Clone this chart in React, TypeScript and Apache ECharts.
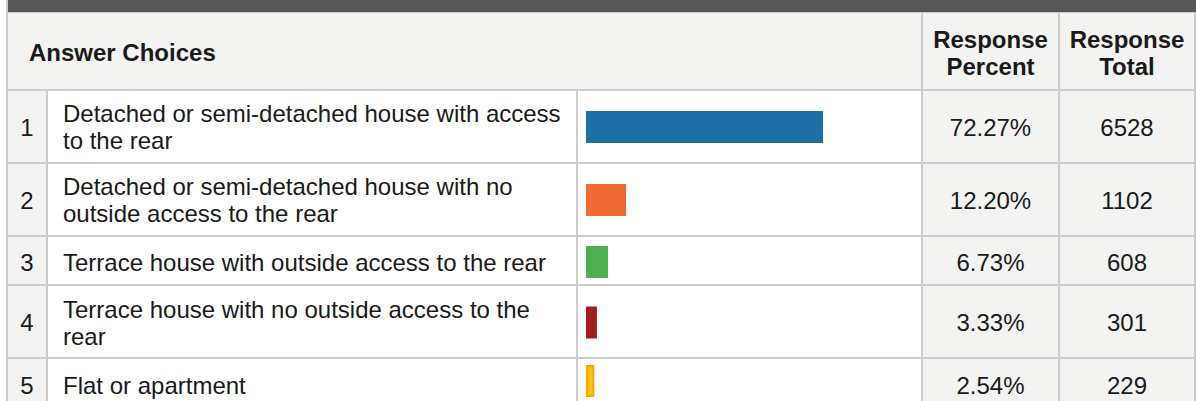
import React, { useEffect, useRef } from "react";
import * as echarts from "echarts";

// ---- data ----
const choiceLabels: string[] = [
  "Detached or semi-detached house with access\nto the rear",
  "Detached or semi-detached house with no\noutside access to the rear",
  "Terrace house with outside access to the rear",
  "Terrace house with no outside access to the\nrear",
  "Flat or apartment",
];
const responsePercent: number[] = [72.27, 12.2, 6.73, 3.33, 2.54];
const responseTotal: number[] = [6528, 1102, 608, 301, 229];
const barColors: string[] = ["#1D6FA5", "#F16A34", "#4CAF50", "#A31D1F", "#FFC20E"];
const headerChoices = "Answer Choices";
const headerPercent = "Response\nPercent";
const headerTotal = "Response\nTotal";

// ---- layout (presentation only) ----
const W = 1196;
const H = 401;
const FONT = "'Liberation Sans', Arial, Helvetica, sans-serif";
const BORDER = "#cccccc";
const GREY = "#f3f3f2";
const TEXT = "#1a1a1a";
// row [top, bottom] (content area between borders)
const rows: [number, number][] = [
  [91, 162],
  [164, 235],
  [237, 284],
  [286, 357],
  [359, 412],
];
const rowCenters = [127, 200, 262, 322.5, 385];
const barLeft = 586;
const barFull = 328; // px for 100%

export default function App() {
  const ref = useRef<HTMLDivElement>(null);
  useEffect(() => {
    document.body.style.margin = "0";
    if (!ref.current) return;
    const chart = echarts.init(ref.current, null, { renderer: "svg", width: W, height: H });

    const graphics: any[] = [];
    const rect = (x: number, y: number, w: number, h: number, fill: string, z = 0) =>
      graphics.push({ type: "rect", z, silent: true, shape: { x, y, width: w, height: h }, style: { fill } });
    const text = (
      x: number,
      y: number,
      t: string,
      align: string,
      bold = false
    ) =>
      graphics.push({
        type: "text",
        z: 10,
        silent: true,
        x,
        y,
        style: {
          text: t,
          fontFamily: FONT,
          fontSize: 24,
          fontWeight: bold ? "bold" : "normal",
          lineHeight: 27,
          fill: TEXT,
          align,
          verticalAlign: "middle",
          textAlign: align,
          textVerticalAlign: "middle",
        },
      });

    // top dark bar
    rect(8, 0, W - 8, 12, "#555756");
    rect(8, 12, W - 8, 1, BORDER);
    // header bg
    rect(8, 13, 1186, 76, GREY);
    // grey columns in body
    rect(8, 91, 38, H - 91, GREY);
    rect(923, 91, 135, H - 91, GREY);
    rect(1060, 91, 134, H - 91, GREY);
    // left & right borders
    rect(6, 0, 2, H, BORDER);
    rect(1194, 13, 2, H - 13, BORDER);
    // header vertical borders
    rect(921, 13, 2, H - 13, BORDER);
    rect(1058, 13, 2, H - 13, BORDER);
    // body vertical borders
    rect(46, 91, 2, H - 91, BORDER);
    rect(576, 91, 2, H - 91, BORDER);
    // horizontal borders
    rect(8, 89, 1186, 2, BORDER);
    rows.forEach((r, i) => {
      if (i < rows.length - 1) rect(8, r[1], 1186, 2, BORDER);
    });

    // header texts
    text(29, 52, headerChoices, "left", true);
    text(990.5, 53, headerPercent, "center", true);
    text(1127, 53, headerTotal, "center", true);

    // body texts
    choiceLabels.forEach((label, i) => {
      const cy = rowCenters[i];
      text(27, cy, String(i + 1), "center");
      text(63, cy, label, "left");
      text(990.5, cy, responsePercent[i].toFixed(2) + "%", "center");
      text(1127, cy, String(responseTotal[i]), "center");
    });

    // one grid per row so bars sit in rows of unequal height
    const grids: any[] = [];
    const xAxes: any[] = [];
    const yAxes: any[] = [];
    const series: any[] = [];
    choiceLabels.forEach((label, i) => {
      const cy = rowCenters[i];
      const h = 48;
      grids.push({ left: barLeft, width: barFull, top: cy - h / 2, height: h, containLabel: false });
      xAxes.push({ type: "value", gridIndex: i, min: 0, max: 100, show: false });
      yAxes.push({ type: "category", gridIndex: i, data: [String(i + 1)], show: false });
      series.push({
        type: "bar",
        xAxisIndex: i,
        yAxisIndex: i,
        barWidth: 32,
        z: 5,
        data: [responsePercent[i]],
        itemStyle:
          i === 4
            ? { color: barColors[i], borderColor: "#FFA500", borderWidth: 2 }
            : { color: barColors[i] },
        silent: true,
      });
    });

    chart.setOption({
      animation: false,
      backgroundColor: "#ffffff",
      grid: grids,
      xAxis: xAxes,
      yAxis: yAxes,
      series,
      graphic: { elements: graphics },
    });
    return () => chart.dispose();
  }, []);
  return (
    <div
      ref={ref}
      style={{ position: "absolute", left: 0, top: 0, width: W, height: H }}
    />
  );
}
